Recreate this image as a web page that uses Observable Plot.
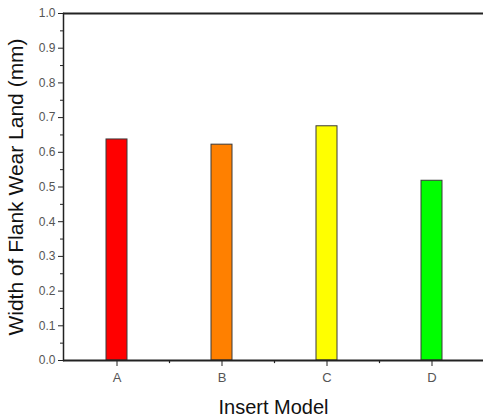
<!DOCTYPE html>
<html>
<head>
<meta charset="utf-8">
<script src="https://cdn.jsdelivr.net/npm/d3@7"></script>
<script src="https://cdn.jsdelivr.net/npm/@observablehq/plot@0.6"></script>
<style>
  html, body { margin: 0; padding: 0; background: #fff; }
  svg { display: block; }
</style>
</head>
<body>
<div id="chart"></div>
<script>
const categories = ["A", "B", "C", "D"];
const wear = [0.637, 0.622, 0.675, 0.518];
const colors = ["#ff0000", "#ff8000", "#ffff00", "#00ff00"];
const yTicks = [0, 0.1, 0.2, 0.3, 0.4, 0.5, 0.6, 0.7, 0.8, 0.9, 1.0];
const yMinorTicks = [0.05, 0.15, 0.25, 0.35, 0.45, 0.55, 0.65, 0.75, 0.85, 0.95];
const xLabel = "Insert Model";
const yLabel = "Width of Flank Wear Land (mm)";

const data = categories.map((c, i) => ({model: c, value: wear[i], color: colors[i]}));

const font = "Liberation Sans, Arial, sans-serif";

const chart = Plot.plot({
  width: 483,
  height: 418,
  marginLeft: 63,
  marginRight: 0,
  marginTop: 13,
  marginBottom: 58,
  style: {fontFamily: font, background: "#fff", color: "#222"},
  x: {type: "band", domain: categories, range: [64, 484], paddingInner: 0.8, paddingOuter: 0.4, round: false},
  y: {domain: [0, 1], range: [360, 13]},
  marks: [
    Plot.barY(data, {x: "model", y: "value", fill: "color", stroke: "#3a3a3a", strokeWidth: 1}),
    Plot.ruleY([0], {stroke: "#222", strokeWidth: 2}),
    Plot.ruleY([1], {stroke: "#222", strokeWidth: 2}),
    Plot.frame({anchor: "left", stroke: "#222", strokeWidth: 1.5}),
    Plot.axisY({ticks: yTicks, tickSize: 5, tickPadding: 3, tickFormat: ".1f", fontSize: 12, fill: "#555", stroke: "#222", label: null}),
    Plot.axisY({ticks: yMinorTicks, tickSize: 3, tickFormat: () => "", stroke: "#222", label: null}),
    Plot.axisY({ticks: [], label: yLabel, labelAnchor: "center", labelArrow: "none", labelOffset: 55, fontSize: 21, fill: "#111"}),
    Plot.ruleX(categories.slice(0, 3), {x: d => d, y1: 0, y2: -0.009, dx: 52.5, stroke: "#222", strokeWidth: 1.2}),
    Plot.axisX({tickSize: 6, tickPadding: 6, fontSize: 13, fill: "#555", stroke: "#222", label: null}),
    Plot.axisX({ticks: [], label: xLabel, labelAnchor: "center", labelArrow: "none", labelOffset: 53, fontSize: 20, fill: "#111"})
  ]
});
document.getElementById("chart").appendChild(chart);
</script>
</body>
</html>
